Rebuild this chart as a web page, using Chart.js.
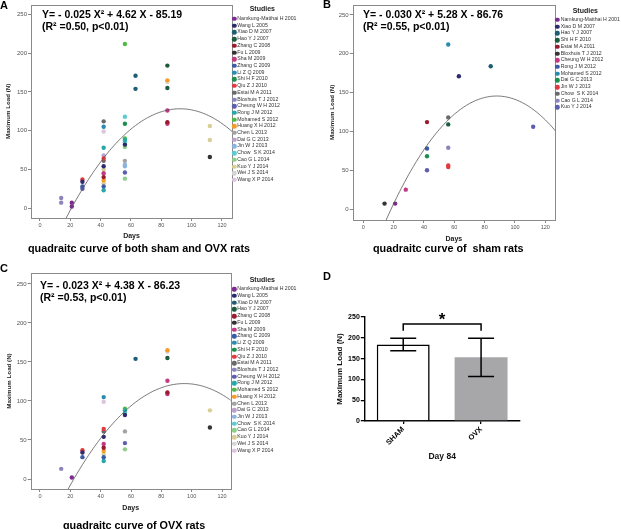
<!DOCTYPE html>
<html>
<head>
<meta charset="utf-8">
<script src="https://cdn.jsdelivr.net/npm/chart.js@4.4.1/dist/chart.umd.min.js"></script>
<style>
  body { margin: 0; background: #fff; width: 621px; height: 529px; position: relative; overflow: hidden;
    font-family: 'Liberation Sans', Arial, sans-serif; color: #000; }
  canvas { position: absolute; }
  .t { position: absolute; white-space: pre; line-height: 1; }
  .letter { font-weight: bold; font-size: 11px; }
  .eq { font-weight: bold; font-size: 10.5px; }
  .sub { font-weight: bold; font-size: 10.8px; }
  .lg-head { position: absolute; font-weight: bold; font-size: 7px; line-height: 1; transform: translate(-50%, -50%); color: #222; }
  .lg-item { position: absolute; font-size: 5.2px; line-height: 1; color: #333; white-space: pre; transform: translateY(-50%); }
  .lg-dot { position: absolute; width: 4.4px; height: 4.4px; border-radius: 50%; transform: translate(-50%, -50%); }
</style>
</head>
<body>
<canvas id="chartA" width="310" height="260" style="left:0;top:0"></canvas>
<canvas id="chartB" width="311" height="260" style="left:310px;top:0"></canvas>
<canvas id="chartC" width="310" height="269" style="left:0;top:260px"></canvas>
<canvas id="chartD" width="311" height="269" style="left:310px;top:260px"></canvas>

<div class="t letter" style="left:0;top:0">A</div>
<div class="t letter" style="left:323px;top:-1px">B</div>
<div class="t letter" style="left:0;top:263px">C</div>
<div class="t letter" style="left:323px;top:271px">D</div>

<div class="t eq" style="left:42px;top:9px">Y= - 0.025 X² + 4.62 X - 85.19</div>
<div class="t eq" style="left:42px;top:21px">(R² =0.50, p&lt;0.01)</div>
<div class="t eq" style="left:363px;top:9px">Y= - 0.030 X² + 5.28 X - 86.76</div>
<div class="t eq" style="left:363px;top:21px">(R² =0.55, p&lt;0.01)</div>
<div class="t eq" style="left:40px;top:280px">Y= - 0.023 X² + 4.38 X - 86.23</div>
<div class="t eq" style="left:40px;top:292px">(R² =0.53, p&lt;0.01)</div>

<div class="t sub" style="left:28px;top:243px">quadraitc curve of both sham and OVX rats</div>
<div class="t sub" style="left:373px;top:243px">quadraitc curve of  sham rats</div>
<div class="t sub" style="left:63px;top:520px">quadraitc curve of OVX rats</div>

<div id="legends"></div>

<script>
// studies in the legend order of panels A and C
const studies = [
  'Namkung-Matthai H 2001', 'Wang L 2005', 'Xiao D M 2007', 'Hao Y J 2007', 'Zhang C 2008',
  'Fu L 2009', 'Sha M 2009', 'Zhang C 2009', 'Li Z Q 2009', 'Shi H F 2010',
  'Qiu Z J 2010', 'Estai M A 2011', 'Bloxhuis T J 2012', 'Cheung W H 2012', 'Rong J M 2012',
  'Mohamed S 2012', 'Huang X H 2012', 'Chen L 2013', 'Dai G C 2013', 'Jin W J 2013',
  'Chow  S K 2014', 'Cao G L 2014', 'Kuo Y J 2014', 'Wei J S 2014', 'Wang X P 2014'
]
// palette is handed out in legend order, so panel B reuses the first 14
const palette = [
  '#7b2c8c', '#2e2a6e', '#1e5e74', '#1b5b3e', '#9a1b2e',
  '#333333', '#c23a83', '#3b5ba8', '#2a8bb0', '#1c8e4e',
  '#e2383f', '#6a6a6a', '#8a86bc', '#5d5fae', '#26a7a8',
  '#52b848', '#f59b2a', '#a3a3a3', '#bda0cc', '#8db3df',
  '#5ecbd3', '#8ecd8a', '#d8cf94', '#d5d5d5', '#ddc4de'
]
const shamStudies = [
  'Namkung-Matthai H 2001', 'Xiao D M 2007', 'Hao Y J 2007', 'Shi H F 2010', 'Estai M A 2011',
  'Bloxhuis T J 2012', 'Cheung W H 2012', 'Rong J M 2012', 'Mohamed S 2012', 'Dai G C 2013',
  'Jin W J 2013', 'Chow  S K 2014', 'Cao G L 2014', 'Kuo Y J 2014'
]

// sham rats (panel B)
const shamStudy = [
  'Bloxhuis T J 2012', 'Namkung-Matthai H 2001', 'Cheung W H 2012', 'Estai M A 2011', 'Rong J M 2012',
  'Dai G C 2013', 'Kuo Y J 2014', 'Mohamed S 2012', 'Chow  S K 2014', 'Shi H F 2010',
  'Cao G L 2014', 'Jin W J 2013', 'Jin W J 2013', 'Xiao D M 2007', 'Hao Y J 2007', 'Kuo Y J 2014'
]
const shamDays = [14, 21, 28, 42, 42, 42, 42, 56, 56, 56, 56, 56, 56, 63, 84, 112]
const shamLoad = [7, 7, 25, 112, 78, 68, 50, 212, 118, 109, 79, 56, 54, 171, 184, 106]

// OVX rats (panel C)
const ovxStudy = [
  'Bloxhuis T J 2012', 'Namkung-Matthai H 2001', 'Qiu Z J 2010', 'Wang L 2005', 'Zhang C 2009',
  'Li Z Q 2009', 'Wang X P 2014', 'Qiu Z J 2010', 'Estai M A 2011', 'Wang L 2005',
  'Sha M 2009', 'Zhang C 2008', 'Huang X H 2012', 'Kuo Y J 2014', 'Zhang C 2009', 'Rong J M 2012',
  'Mohamed S 2012', 'Rong J M 2012', 'Chow  S K 2014', 'Wang L 2005', 'Chen L 2013',
  'Cheung W H 2012', 'Cao G L 2014', 'Xiao D M 2007',
  'Huang X H 2012', 'Wei J S 2014', 'Hao Y J 2007', 'Sha M 2009', 'Zhang C 2008', 'Sha M 2009',
  'Kuo Y J 2014', 'Fu L 2009'
]
const ovxDays = [14, 21, 28, 28, 28, 42, 42, 42, 42, 42, 42, 42, 42, 42, 42, 42,
  56, 56, 56, 56, 56, 56, 56, 63, 84, 84, 84, 84, 84, 84, 112, 112]
const ovxLoad = [13, 2, 37, 34, 28, 105, 99, 64, 61, 54, 45, 40, 36, 32, 28, 23,
  90, 88, 85, 82, 61, 46, 38, 154, 165, 163, 155, 126, 111, 109, 88, 66]

// quadratic fits printed on each panel: [x², x, const]
const fitAll = [-0.025, 4.62, -85.19]
const fitSham = [-0.030, 5.28, -86.76]
const fitOvx = [-0.023, 4.38, -86.23]

const dayTicks = [0, 20, 40, 60, 80, 100, 120]
const loadTicks = [0, 50, 100, 150, 200, 250]

// panel D, day 84
const groups = ['SHAM', 'OVX']
const groupMean = [184, 153]
const groupErr = [15, 46]
const barTicks = [0, 50, 100, 150, 200, 250]

Chart.defaults.font.family = "'Liberation Sans', Arial, sans-serif"
Chart.defaults.color = '#555'

function studyDatasets(names, colors, sets) {
  return names.map((name, i) => {
    const data = []
    sets.forEach(s => s.study.forEach((st, j) => {
      if (st === name) data.push({ x: s.days[j], y: s.load[j] })
    }))
    return { type: 'scatter', label: name, data, backgroundColor: colors[i], borderWidth: 0, pointRadius: 2.2 }
  })
}

function fitDataset(coef) {
  const data = []
  for (let x = 10; x <= 130; x += 1) data.push({ x, y: coef[0] * x * x + coef[1] * x + coef[2] })
  return { type: 'line', data, borderColor: '#555', borderWidth: 0.8, pointRadius: 0, fill: false, tension: 0, order: -1 }
}

const frame = {
  id: 'frame',
  beforeDatasetsDraw(chart) {
    const { ctx, chartArea: a } = chart
    ctx.save()
    ctx.strokeStyle = '#8a8a8a'
    ctx.lineWidth = 1
    ctx.strokeRect(Math.round(a.left) + 0.5, Math.round(a.top) + 0.5, Math.round(a.width), Math.round(a.height))
    ctx.restore()
  }
}

function scatterChart(id, datasets, o) {
  return new Chart(document.getElementById(id), {
    type: 'scatter',
    data: { datasets },
    plugins: [frame],
    options: {
      responsive: false,
      animation: false,
      layout: { padding: o.padding },
      plugins: { legend: { display: false }, tooltip: { enabled: false } },
      scales: {
        x: {
          type: 'linear', min: o.x[0], max: o.x[1],
          afterBuildTicks: s => { s.ticks = dayTicks.map(v => ({ value: v })) },
          afterFit: s => { s.height = o.xh },
          grid: { drawOnChartArea: false, tickLength: 3, color: '#888' },
          border: { display: false },
          ticks: { font: { size: 5.5 }, padding: 1, maxRotation: 0, color: '#555' },
          title: { display: true, text: 'Days', font: { size: 7, weight: 'bold' }, color: '#222', padding: 0 }
        },
        y: {
          min: o.y[0], max: o.y[1],
          afterBuildTicks: s => { s.ticks = loadTicks.map(v => ({ value: v })) },
          afterFit: s => { s.width = o.yw },
          grid: { drawOnChartArea: false, tickLength: 3, color: '#888' },
          border: { display: false },
          ticks: { font: { size: 6 }, padding: 1, color: '#555' },
          title: { display: true, text: 'Maximum Load (N)', font: { size: 6.2, weight: 'bold' }, color: '#222', padding: 0 }
        }
      }
    }
  })
}

scatterChart('chartA',
  [...studyDatasets(studies, palette, [
    { study: shamStudy, days: shamDays, load: shamLoad },
    { study: ovxStudy, days: ovxDays, load: ovxLoad }
  ]), fitDataset(fitAll)],
  { padding: { left: 5, top: 3, right: 78, bottom: 19.4 }, yw: 26, xh: 22.6, x: [-5.9, 126.6], y: [-12.8, 262.8] })

scatterChart('chartB',
  [...studyDatasets(shamStudies, palette, [{ study: shamStudy, days: shamDays, load: shamLoad }]), fitDataset(fitSham)],
  { padding: { left: 18.5, top: 3.3, right: 66, bottom: 16.8 }, yw: 24.2, xh: 23.2, x: [-7, 126.4], y: [-14.1, 263.3] })

scatterChart('chartC',
  [...studyDatasets(studies, palette, [{ study: ovxStudy, days: ovxDays, load: ovxLoad }]), fitDataset(fitOvx)],
  { padding: { left: 5.3, top: 13, right: 79.3, bottom: 16.8 }, yw: 25.4, xh: 23.2, x: [-6.1, 125.7], y: [-12.8, 264] })

// error bars, bracket and star for panel D
const errorBars = {
  id: 'errorBars',
  afterDatasetsDraw(chart) {
    const { ctx, scales: { y } } = chart
    const bars = chart.getDatasetMeta(0).data
    ctx.save()
    ctx.strokeStyle = '#000'
    ctx.lineWidth = 1.5
    bars.forEach((b, i) => {
      const top = y.getPixelForValue(groupMean[i] + groupErr[i])
      const bot = y.getPixelForValue(groupMean[i] - groupErr[i])
      ctx.beginPath()
      ctx.moveTo(b.x, top); ctx.lineTo(b.x, bot)
      ctx.moveTo(b.x - 13, top); ctx.lineTo(b.x + 13, top)
      ctx.moveTo(b.x - 13, bot); ctx.lineTo(b.x + 13, bot)
      ctx.stroke()
    })
    const high = Math.max(...groupMean.map((m, i) => m + groupErr[i]))
    const by = y.getPixelForValue(high + 34)
    const ey = y.getPixelForValue(high + 18)
    ctx.beginPath()
    ctx.moveTo(bars[0].x, ey); ctx.lineTo(bars[0].x, by)
    ctx.lineTo(bars[1].x, by); ctx.lineTo(bars[1].x, ey)
    ctx.stroke()
    ctx.fillStyle = '#000'
    ctx.font = "bold 17px 'Liberation Sans', Arial, sans-serif"
    ctx.textAlign = 'center'
    ctx.textBaseline = 'middle'
    ctx.fillText('*', (bars[0].x + bars[1].x) / 2, by - 4)
    ctx.restore()
  }
}

new Chart(document.getElementById('chartD'), {
  type: 'bar',
  data: {
    labels: groups,
    datasets: [{
      data: groupMean,
      backgroundColor: ['#ffffff', '#a7a7aa'],
      borderColor: ['#000', 'rgba(0,0,0,0)'],
      borderWidth: [1.6, 0],
      categoryPercentage: 1,
      barPercentage: 0.68
    }]
  },
  plugins: [errorBars],
  options: {
    responsive: false,
    animation: false,
    layout: { padding: { left: 24.5, top: 57, right: 101, bottom: 66.9 } },
    plugins: { legend: { display: false }, tooltip: { enabled: false } },
    scales: {
      x: {
        afterFit: s => { s.height = 41.1 },
        grid: { drawOnChartArea: false, offset: false, tickLength: 3, color: '#000', lineWidth: 1.3 },
        border: { color: '#000', width: 1.4 },
        ticks: { font: { size: 7.5, weight: 'bold' }, color: '#000', minRotation: 45, maxRotation: 45, padding: 1 },
        title: { display: true, text: 'Day 84', font: { size: 8.5, weight: 'bold' }, color: '#111', padding: 0 }
      },
      y: {
        min: 0, max: 250,
        afterBuildTicks: s => { s.ticks = barTicks.map(v => ({ value: v })) },
        afterFit: s => { s.width = 29.8 },
        grid: { drawOnChartArea: false, tickLength: 3.5, color: '#000', lineWidth: 1.3 },
        border: { color: '#000', width: 1.4 },
        ticks: { font: { size: 7, weight: 'bold' }, color: '#000', padding: 1 },
        title: { display: true, text: 'Maximum Load (N)', font: { size: 8, weight: 'bold' }, color: '#111', padding: 0 }
      }
    }
  }
})

// SPSS style legends
function legend(names, colors, o) {
  const box = document.getElementById('legends')
  const head = document.createElement('div')
  head.className = 'lg-head'
  head.textContent = 'Studies'
  head.style.left = o.headX + 'px'
  head.style.top = o.headY + 'px'
  box.appendChild(head)
  names.forEach((n, i) => {
    const y = o.firstY + i * o.step
    const dot = document.createElement('div')
    dot.className = 'lg-dot'
    dot.style.background = colors[i]
    dot.style.left = o.dotX + 'px'
    dot.style.top = y + 'px'
    const txt = document.createElement('div')
    txt.className = 'lg-item'
    txt.textContent = n
    txt.style.left = o.textX + 'px'
    txt.style.top = y + 'px'
    box.appendChild(dot)
    box.appendChild(txt)
  })
}

legend(studies, palette, { headX: 262.3, headY: 8, dotX: 234.3, textX: 237.3, firstY: 19, step: 6.71 })
legend(shamStudies, palette, { headX: 585.3, headY: 9.7, dotX: 557.3, textX: 560.7, firstY: 20, step: 6.72 })
legend(studies, palette, { headX: 262.3, headY: 279, dotX: 234.3, textX: 237.3, firstY: 289.3, step: 6.72 })
</script>
</body>
</html>
